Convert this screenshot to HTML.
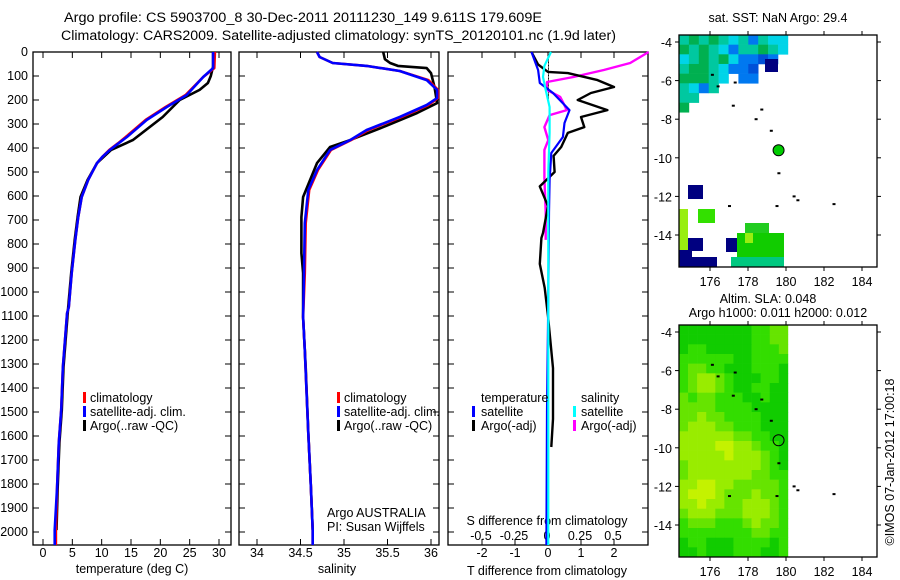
<!DOCTYPE html>
<html><head><meta charset="utf-8"><style>
body{margin:0;background:#fff;}
svg{display:block;font-family:"Liberation Sans",sans-serif;}
text{font-size:12.5px;fill:#000;}
</style></head><body>
<svg id="s" width="900" height="580" viewBox="0 0 900 580" xmlns="http://www.w3.org/2000/svg">
<text x="64" y="22" textLength="478" lengthAdjust="spacingAndGlyphs" style="font-size:13.5px">Argo profile: CS 5903700_8 30-Dec-2011 20111230_149 9.611S 179.609E</text>
<text x="61" y="40" textLength="555" lengthAdjust="spacingAndGlyphs" style="font-size:13.5px">Climatology: CARS2009. Satellite-adjusted climatology: synTS_20120101.nc (1.9d later)</text>
<g id="g"></g>
</svg>
<script>
// ---------- data ----------
const depthTicks=[0,100,200,300,400,500,600,700,800,900,1000,1100,1200,1300,1400,1500,1600,1700,1800,1900,2000];
const tempTicks=[0,5,10,15,20,25,30];
const salTicks=[34,34.5,35,35.5,36];
const tdiffTicks=[-2,-1,0,1,2];
const sdiffTicks=[-0.5,-0.25,0,0.25,0.5];
const sdiffTickLabels=["-0.5","-0.25","0","0.25","0.5"];
const lonTicks=[176,178,180,182,184];
const latTicks=[-4,-6,-8,-10,-12,-14];

const tDepth=[0,67,104,179,229,283,354,380,408,435,463,500,533,604,688,783,921,1063,1088,1313,1492,1629,1813,1992,2054];
const tClim =[29.3,29.2,27.3,24.3,20.9,17.5,14.1,12.8,11.3,10.2,9.2,8.4,7.7,6.6,6.0,5.5,4.9,4.4,4.1,3.4,3.1,2.7,2.4,2.2,2.2];
const tSat  =[29.0,29.0,27.3,24.5,21.1,17.7,14.3,12.9,11.4,10.2,9.2,8.4,7.7,6.6,6.0,5.5,4.9,4.4,4.1,3.4,3.1,2.7,2.4,2.0,2.0];
const tArgoDepth=[0,60,100,129,158,200,271,367,408,463,533,604,688,783,921,1063,1313,1492,1629,1813,1992];
const tArgo=[29.0,29.0,28.6,28.1,26.7,23.3,20.4,15.3,11.6,9.2,7.6,6.4,5.9,5.4,4.8,4.3,3.5,3.2,2.8,2.5,2.3];

const sDepth=[0,21,46,58,79,117,158,192,221,271,325,367,408,492,575,713,921,1104,1242,1421,1588,1813,1992,2054];
const sClim=[34.69,34.72,34.87,35.26,35.64,35.97,36.08,36.08,35.97,35.66,35.28,35.08,34.85,34.70,34.60,34.56,34.55,34.53,34.55,34.57,34.59,34.62,34.64,34.64];
const sSat =[34.69,34.72,34.87,35.26,35.64,35.95,36.07,36.07,35.95,35.64,35.26,35.07,34.84,34.69,34.59,34.55,34.54,34.53,34.55,34.57,34.59,34.62,34.64,34.64];
const sArgoDepth=[0,30,46,58,67,88,146,213,254,313,367,396,463,604,688,838,921,1104,1313,1588,1813,1992];
const sArgo=[35.45,35.47,35.53,35.62,35.95,36.0,36.04,36.07,35.84,35.45,35.07,34.84,34.69,34.53,34.51,34.51,34.53,34.53,34.56,34.59,34.62,34.64];

const dtDepth=[0,52,83,88,117,146,171,200,242,271,313,337,396,433,500,560,642,754,775,883,983,1100,1317,1529,1646];
const dtArgo=[-0.5,-0.3,0,0.6,1.5,2.0,1.3,0.9,1.8,1.0,1.1,0.6,0.4,0.17,0.2,-0.25,0,-0.15,-0.2,-0.25,-0.1,0,0.15,0.15,0.1];
const dtSatDepth=[0,75,129,171,242,296,354,421,533,667,1142,1500,2054];
const dtSat=[-0.5,-0.3,-0.25,0.15,0.65,0.5,0.45,0.1,0.05,0.03,0,-0.03,-0.05];
const dsArgoDepth=[0,46,75,104,125,158,187,208,242,263,313,367,408,525,667,783];
const dsArgo=[0.77,0.63,0.43,0.2,0,0,0.1,0.12,0.15,0.02,-0.02,0.01,-0.02,-0.02,-0.01,-0.01];
const dsSatDepth=[0,58,104,158,229,337,500,1000,1500,2054];
const dsSat=[0.03,-0.02,-0.03,-0.01,0.02,0.02,0.01,0.01,0.01,0.01];

// map data
const sstRows=["tgtgtctbtcc","gtgtcbttgtc","ctgtgcbbdb","tggtcbbd","gggtc.bb","tcbt","tt","g"];
const slaRows=["aaaaaaaabbcc","aaaaaaaabbcc","abbaaaaabbbc","bbbbbbaabbbb","bccbbaaabbba","bcddcbaaabba","bcddcbaabbaa","cbccbbbaabaa","ccccbbbbaaaa","ccdccbbbbaaa","cdddccbbbaaa","ddddddccbbaa","ddddeeddcbba","dddddedddcba","cddddddddcba","cdddddddccbb","ddeeddcccccb","deeedcccdccb","ddeddccdddcb","cdddcccdddcb","bcccbbbcdccb","bbbbbbbbccbb","abbaaabbbbab","aabaaabbbaab"];
const markLon=[176.1,176.4,177.3,177.2,178.7,178.4,179.2,179.6,180.4,180.6,182.5,177.0,179.5];
const markLat=[-5.7,-6.3,-6.1,-7.3,-7.5,-8.0,-8.6,-10.8,-12.0,-12.2,-12.4,-12.5,-12.5];
const argoLon=[179.609];const argoLat=[-9.611];

// ---------- helpers ----------
const NS="http://www.w3.org/2000/svg";
const G=document.getElementById('g');
function mk(tag,attrs,parent){const e=document.createElementNS(NS,tag);for(const k in attrs)e.setAttribute(k,attrs[k]);(parent||G).appendChild(e);return e;}
const Y0=52,YPX=0.24;
function yD(d){return Y0+d*YPX;}
const PT=545;
function lin(a,b,pa,pb){return v=>pa+(v-a)*(pb-pa)/(b-a);}
const xT=lin(0,30,43,219), xS=lin(34,36,257,431), xDT=lin(0,2,548,614), xDS=lin(0,0.5,547,613);

function line(xs,ds,fx,color,w,name){
  const p=xs.map((v,i)=>fx(v).toFixed(1)+','+yD(ds[i]).toFixed(1)).join(' ');
  const e=mk('polyline',{points:p,fill:'none',stroke:color,'stroke-width':w,'stroke-linejoin':'round'});
  
  
}
function frame(x0,x1,name){
  const e=mk('rect',{x:x0,y:Y0,width:x1-x0,height:PT-Y0,fill:'none',stroke:'#000','stroke-width':1.3});
  
  
  depthTicks.forEach(d=>{mk('line',{x1:x0,x2:x0+6,y1:yD(d),y2:yD(d),stroke:'#000'});mk('line',{x1:x1-6,x2:x1,y1:yD(d),y2:yD(d),stroke:'#000'});});
}
function xticks(vals,fx,labels,ly,name){
  vals.forEach((v,i)=>{const x=fx(v);mk('line',{x1:x,x2:x,y1:Y0,y2:Y0+6,stroke:'#000'});mk('line',{x1:x,x2:x,y1:PT-6,y2:PT,stroke:'#000'});
    if(ly){const t=mk('text',{x:x,y:ly,'text-anchor':'middle'});t.textContent=labels[i];
    
    }});
}
function txt(x,y,s,name,extra){const t=mk('text',Object.assign({x:x,y:y},extra||{}));t.textContent=s;
  
  return t;}

// ---------- panel 1 ----------
frame(33,231,'temperature-panel');
depthTicks.forEach(d=>{txt(28,yD(d)+4,String(d),'depth-tick-label',{'text-anchor':'end'});});
xticks(tempTicks,xT,tempTicks.map(String),557,'temperature-tick-label');
txt(132,573,'temperature (deg C)','x-axis-title-temperature',{'text-anchor':'middle'});
line(tArgo,tArgoDepth,xT,'#000',2.6,'temp-argo-line');
line(tClim,tDepth,xT,'#f00',2.6,'temp-climatology-line');
line(tSat,tDepth,xT,'#00f',2.6,'temp-satellite-line');
function legend(x,y,items,name){items.forEach((it,i)=>{mk('rect',{x:x,y:y+i*14-8,width:3,height:11,fill:it[0]});txt(x+7,y+i*14+2,it[1],name);});}
legend(83,400,[['#f00','climatology'],['#00f','satellite-adj. clim.'],['#000','Argo(..raw -QC)']],'legend-entry-temperature');

// ---------- panel 2 ----------
frame(239,439,'salinity-panel');
xticks(salTicks,xS,salTicks.map(String),557,'salinity-tick-label');
txt(337,573,'salinity','x-axis-title-salinity',{'text-anchor':'middle'});
line(sArgo,sArgoDepth,xS,'#000',2.6,'sal-argo-line');
line(sClim,sDepth,xS,'#f00',2.6,'sal-climatology-line');
line(sSat,sDepth,xS,'#00f',2.6,'sal-satellite-line');
legend(337,400,[['#f00','climatology'],['#00f','satellite-adj. clim.'],['#000','Argo(..raw -QC)']],'legend-entry-salinity');
txt(327,517,'Argo AUSTRALIA','agency-label');
txt(327,531,'PI: Susan Wijffels','pi-label');

// ---------- panel 3 ----------
frame(448,648,'difference-panel');
xticks(tdiffTicks,xDT,tdiffTicks.map(String),557,'tdiff-tick-label');
sdiffTicks.forEach((v,i)=>{txt(xDS(v),540,sdiffTickLabels[i],'sdiff-tick-label',{'text-anchor':'middle'});});
txt(547,525,'S difference from climatology','sdiff-axis-title',{'text-anchor':'middle'});
txt(547,575,'T difference from climatology','tdiff-axis-title',{'text-anchor':'middle'});
for(let d=30;d<200;d+=6)mk('rect',{x:548,y:yD(d),width:1,height:1,fill:'#000'});
line(dsArgo,dsArgoDepth,xDS,'#f0f',2.4,'sdiff-argo-line');
line(dtArgo,dtDepth,xDT,'#000',2.4,'tdiff-argo-line');
line(dtSat,dtSatDepth,xDT,'#00f',2.2,'tdiff-satellite-line');
line(dsSat,dsSatDepth,xDS,'#0ff',2.2,'sdiff-satellite-line');
txt(481,402,'temperature','legend-header-temperature');
txt(581,402,'salinity','legend-header-salinity');
mk('rect',{x:472,y:406,width:3,height:11,fill:'#00f'});txt(481,416,'satellite','legend-entry-tsat');
mk('rect',{x:472,y:420,width:3,height:11,fill:'#000'});txt(481,430,'Argo(-adj)','legend-entry-targo');
mk('rect',{x:573,y:406,width:3,height:11,fill:'#0ff'});txt(581,416,'satellite','legend-entry-ssat');
mk('rect',{x:573,y:420,width:3,height:11,fill:'#f0f'});txt(581,430,'Argo(-adj)','legend-entry-sargo');

// ---------- maps ----------
const mLon=lin(176,184,710,862);
function mapFrame(top,name,latTop){
  const bot=top+232, mLat=lin(-4,-14,latTop,latTop+193);
  return {top,bot,mLat,name};
}
function drawAxes(m){
  const e=mk('rect',{x:679,y:m.top,width:198,height:m.bot-m.top,fill:'none',stroke:'#000','stroke-width':1.3});
  
  
  lonTicks.forEach(v=>{const x=mLon(v);mk('line',{x1:x,x2:x,y1:m.top-4,y2:m.top,stroke:'#000'});mk('line',{x1:x,x2:x,y1:m.bot,y2:m.bot+4,stroke:'#000'});
    txt(x,m.bot+19,String(v),'lon-tick-label',{'text-anchor':'middle'});});
  latTicks.forEach(v=>{const y=m.mLat(v);mk('line',{x1:675,x2:679,y1:y,y2:y,stroke:'#000'});mk('line',{x1:877,x2:881,y1:y,y2:y,stroke:'#000'});
    txt(672,y+5,String(v),'lat-tick-label',{'text-anchor':'end'});});
}
function marks(m){markLon.forEach((lo,i)=>{const e=mk('rect',{x:mLon(lo)-1,y:m.mLat(markLat[i])-1,width:3,height:2,fill:'#000'});
  
  });}

const m1=mapFrame(35,'sst-map',42);
const sstCol={t:'#00c8a0',g:'#00b050',c:'#00d4e8',b:'#0078f0',d:'#0050d8'};
const sstCw=(mLon(180.1)-679)/11, sstCh=(m1.mLat(-7.64)-35)/8;
sstRows.forEach((row,r)=>{[...row].forEach((ch,c)=>{if(sstCol[ch]){const e=mk('rect',{x:679+c*sstCw,y:35+r*sstCh,width:sstCw+0.3,height:sstCh+0.3,fill:sstCol[ch]});
  
  }});});
[[765,59,13,13,'#000080'],[688,185,15,14,'#000080'],[698,209,17,14,'#33e000'],[679,209,9,41,'#99ee10'],[688,238,15,13,'#000080'],[726,238,15,14,'#000080'],[679,250,13,17,'#000080'],[679,257,38,10,'#000080'],[745,223,24,10,'#22cc20'],[737,233,47,24,'#11cc00'],[731,257,53,10,'#00c880'],[745,233,8,10,'#99ee10']].forEach(b=>{
  const e=mk('rect',{x:b[0],y:b[1],width:b[2],height:b[3],fill:b[4]});
  
  });
drawAxes(m1);marks(m1);
argoLon.forEach((lo,i)=>{const e=mk('circle',{cx:mLon(lo),cy:m1.mLat(argoLat[i]),r:5.5,fill:'#00cc00',stroke:'#000','stroke-width':1});
  
  });
txt(778,22,'sat. SST: NaN Argo: 29.4','sst-map-title',{'text-anchor':'middle'});

const m2=mapFrame(325,'sla-map',332);
const slaCol={a:'#11cc00',b:'#33dd00',c:'#66e400',d:'#99ec00',e:'#c4f200'};
const slaCw=(mLon(180.1)-679)/12, slaCh=(m2.bot-m2.top)/24;
slaRows.forEach((row,r)=>{[...row].forEach((ch,c)=>{const e=mk('rect',{x:679+c*slaCw,y:m2.top+r*slaCh,width:slaCw+0.3,height:slaCh+0.3,fill:slaCol[ch]});
  
  });});
drawAxes(m2);marks(m2);
argoLon.forEach((lo,i)=>{const e=mk('circle',{cx:mLon(lo),cy:m2.mLat(argoLat[i]),r:5.5,fill:'none',stroke:'#000','stroke-width':1});
  
  });
txt(768,303,'Altim. SLA: 0.048','sla-map-title',{'text-anchor':'middle'});
txt(778,317,'Argo h1000: 0.011 h2000: 0.012','sla-map-subtitle',{'text-anchor':'middle'});
txt(894,462,'©IMOS 07-Jan-2012 17:00:18','imos-timestamp',{'text-anchor':'middle',transform:'rotate(-90 894 462)'});
</script>
</body></html>
